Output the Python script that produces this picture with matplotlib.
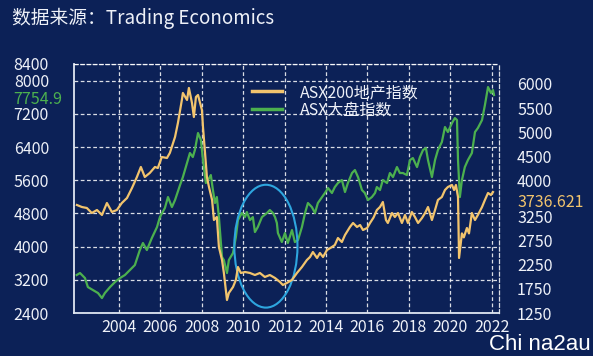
import matplotlib.pyplot as plt
import numpy as np
from matplotlib.patches import Ellipse
from matplotlib.lines import Line2D

plt.rcParams['font.family'] = ['Noto Sans CJK SC', 'DejaVu Sans']

# ASX all ordinaries (green, left axis)
asx_years = [2001.96, 2002.12, 2002.36, 2002.50, 2002.74, 2002.99, 2003.18, 2003.32, 2003.57, 2003.81,
             2004.05, 2004.29, 2004.53, 2004.77, 2005.01, 2005.16, 2005.35, 2005.59, 2005.84, 2005.98,
             2006.22, 2006.37, 2006.56, 2006.71, 2006.95, 2007.09, 2007.29, 2007.43, 2007.57, 2007.67,
             2007.82, 2007.96, 2008.06, 2008.20, 2008.30, 2008.44, 2008.54, 2008.64, 2008.73, 2008.83,
             2008.98, 2009.07, 2009.22, 2009.31, 2009.51, 2009.65, 2009.75, 2009.94, 2010.09, 2010.18,
             2010.33, 2010.47, 2010.57, 2010.71, 2010.91, 2011.15, 2011.29, 2011.44, 2011.54, 2011.63,
             2011.68, 2011.87, 2012.02, 2012.16, 2012.36, 2012.50, 2012.65, 2012.84, 2012.99, 2013.13,
             2013.32, 2013.47, 2013.61, 2013.81, 2013.95, 2014.10, 2014.29, 2014.43, 2014.58, 2014.77,
             2014.92, 2015.06, 2015.26, 2015.40, 2015.55, 2015.74, 2015.88, 2016.03, 2016.22, 2016.37,
             2016.46, 2016.61, 2016.75, 2016.95, 2017.09, 2017.24, 2017.43, 2017.57, 2017.72, 2017.91,
             2018.06, 2018.20, 2018.40, 2018.54, 2018.69, 2018.83, 2018.93, 2019.12, 2019.27, 2019.41,
             2019.60, 2019.75, 2019.89, 2020.09, 2020.23, 2020.33, 2020.38, 2020.47, 2020.57, 2020.71,
             2020.86, 2021.05, 2021.20, 2021.34, 2021.54, 2021.68, 2021.83, 2021.97, 2022.07, 2022.12]
asx_vals = [3315, 3363, 3242, 3025, 2953, 2881, 2760, 2881, 3025, 3146,
            3242, 3315, 3435, 3555, 3917, 4086, 3917, 4206, 4471, 4712,
            4929, 5194, 4953, 5122, 5480, 5676, 6014, 6255, 6158, 6327,
            6737, 6568, 6086, 5532, 5604, 5724, 5363, 5050, 5194, 4712,
            3748, 3676, 3363, 3676, 3845, 4230, 4640, 4809, 4712, 4833,
            4640, 4712, 4351, 4471, 4712, 4809, 4881, 4809, 4712, 4568,
            4327, 4110, 4327, 4086, 4399, 4110, 4158, 4471, 4809, 5050,
            4953, 4809, 5050, 5194, 5291, 5411, 5291, 5435, 5532, 5604,
            5315, 5532, 5773, 5845, 5676, 5363, 5291, 5122, 5194, 5291,
            5435, 5363, 5604, 5532, 5773, 5676, 5917, 5773, 5773, 5724,
            6086, 6134, 5917, 6158, 6327, 6375, 6086, 5676, 6086, 6327,
            6520, 6881, 6761, 6978, 7098, 7050, 6086, 5194, 5604, 5917,
            6086, 6255, 6761, 6857, 7050, 7412, 7845, 7701, 7773, 7652]

# ASX200 A-REIT (yellow, right axis)
reit_years = [2001.97, 2002.21, 2002.45, 2002.69, 2002.94, 2003.18, 2003.42, 2003.66, 2003.90, 2004.14,
              2004.39, 2004.63, 2004.87, 2005.06, 2005.25, 2005.49, 2005.74, 2005.88, 2006.07, 2006.32,
              2006.46, 2006.71, 2006.85, 2007.04, 2007.09, 2007.29, 2007.38, 2007.53, 2007.62, 2007.72,
              2007.82, 2008.01, 2008.06, 2008.16, 2008.25, 2008.35, 2008.50, 2008.59, 2008.73, 2008.83,
              2008.98, 2009.07, 2009.22, 2009.31, 2009.51, 2009.65, 2009.75, 2009.89, 2010.09, 2010.33,
              2010.57, 2010.81, 2011.05, 2011.29, 2011.54, 2011.78, 2011.92, 2012.11, 2012.36, 2012.60,
              2012.84, 2013.08, 2013.23, 2013.37, 2013.57, 2013.71, 2013.86, 2014.05, 2014.29, 2014.43,
              2014.58, 2014.77, 2014.92, 2015.16, 2015.31, 2015.50, 2015.65, 2015.79, 2015.99, 2016.13,
              2016.30, 2016.46, 2016.61, 2016.75, 2016.90, 2016.99, 2017.19, 2017.33, 2017.48, 2017.67,
              2017.82, 2017.96, 2018.15, 2018.30, 2018.45, 2018.64, 2018.79, 2018.93, 2019.12, 2019.27,
              2019.41, 2019.60, 2019.75, 2019.89, 2020.09, 2020.19, 2020.28, 2020.38, 2020.43, 2020.57,
              2020.66, 2020.81, 2020.91, 2021.05, 2021.20, 2021.34, 2021.54, 2021.68, 2021.83, 2021.97,
              2022.07]
reit_vals = [3490, 3448, 3428, 3324, 3386, 3283, 3531, 3345, 3386, 3531,
             3635, 3842, 4071, 4278, 4071, 4154, 4278, 4257, 4485, 4465,
             4570, 4900, 5191, 5668, 5813, 5668, 5917, 5605, 5315, 5730,
             5771, 5460, 5108, 4568, 4071, 3863, 3594, 3179, 3241, 2619,
             2349, 2080, 1520, 1665, 1789, 1936, 2204, 2080, 2100, 2080,
             2038, 2080, 1997, 2038, 1976, 1893, 1831, 1872, 1936, 2080,
             2204, 2349, 2411, 2515, 2391, 2494, 2411, 2556, 2619, 2660,
             2805, 2722, 2867, 3034, 3117, 3034, 3075, 2971, 3013, 3117,
             3230, 3386, 3448, 3552, 3179, 3117, 3324, 3241, 3324, 3117,
             3283, 3117, 3345, 3241, 3117, 3220, 3324, 3448, 3179, 3386,
             3594, 3656, 3801, 3863, 3905, 3801, 3905, 3656, 2391, 2901,
             2818, 3013, 2901, 3324, 3179, 3283, 3448, 3594, 3739, 3697,
             3759]

asx_last = 7754.9
reit_last = 3736.621

left_ticks = [2400, 3200, 4000, 4800, 5600, 6400, 7200, 8000, 8400]
right_ticks = [1250, 1750, 2250, 2750, 3250, 4000, 4500, 5000, 5500, 6000]
year_ticks = list(range(2004, 2023, 2))

bg = '#0c2157'
green = '#4cb04f'
yellow = '#f2c46d'
txt = '#eef1f8'

fig = plt.figure(figsize=(5.93, 3.56), dpi=100, facecolor=bg)
ax = fig.add_axes([74/593, 1-313/356, 425/593, 249/356])
ax.set_facecolor(bg)
ax2 = ax.twinx()
ax2.patch.set_visible(False)

ax.plot(asx_years, asx_vals, color=green, lw=1.6, zorder=3)
ax2.plot(reit_years, reit_vals, color=yellow, lw=1.6, zorder=3)

ax.set_xlim(2001.83, 2022.36)
ax.set_ylim(2400, 8400)
ax2.set_ylim(1250, 6414)

ax.set_xticks(year_ticks)
ax.set_yticks(left_ticks)
ax2.set_yticks(right_ticks)

ax.grid(True, color='white', ls=(0, (3, 2)), lw=0.9, alpha=0.85)
ax.tick_params(axis='both', length=0, colors=txt, labelsize=11.5)
ax.tick_params(axis='y', pad=18)
ax.tick_params(axis='x', pad=4)
ax2.tick_params(axis='y', length=0, colors=txt, labelsize=11.5, pad=13)

for s in ['left', 'bottom']:
    ax.spines[s].set_color('#dfe6f2')
    ax.spines[s].set_linewidth(1.3)
for s in ['top', 'right']:
    ax.spines[s].set_color('white')
    ax.spines[s].set_linestyle((0, (3, 2)))
    ax.spines[s].set_linewidth(0.9)
    ax.spines[s].set_alpha(0.85)
for s in ax2.spines.values():
    s.set_visible(False)

# circled area 2010-2012
circle = Ellipse((2011.1, 4010), width=3.05, height=2960, fill=False,
                 edgecolor='#2ea6df', lw=1.5, zorder=4)
ax.add_patch(circle)

handles = [Line2D([], [], color=yellow, lw=2.5), Line2D([], [], color=green, lw=2.5)]
fig.legend(handles, ['ASX200地产指数', 'ASX大盘指数'], loc='upper left',
           bbox_to_anchor=(252/593, 1-84/356), frameon=False, fontsize=11.5,
           labelcolor=txt, handlelength=1.9, handletextpad=1.1,
           labelspacing=0.05, borderpad=0, borderaxespad=0)

fig.text(13/593, 1-99/356, f'{asx_last}', color=green, fontsize=11.5,
         ha='left', va='center')
fig.text(518/593, 1-202/356, f'{reit_last}', color=yellow, fontsize=11.5,
         ha='left', va='center')

fig.text(12/593, 1-18/356, '数据来源：Trading Economics', color=txt,
         fontsize=13.5, ha='left', va='center')
fig.text(591/593, 1-355/356, 'Chi na2au', color='white', fontsize=16,
         ha='right', va='bottom', family=['Liberation Sans', 'DejaVu Sans'])

fig.savefig('out.png', dpi=100, facecolor=bg)
